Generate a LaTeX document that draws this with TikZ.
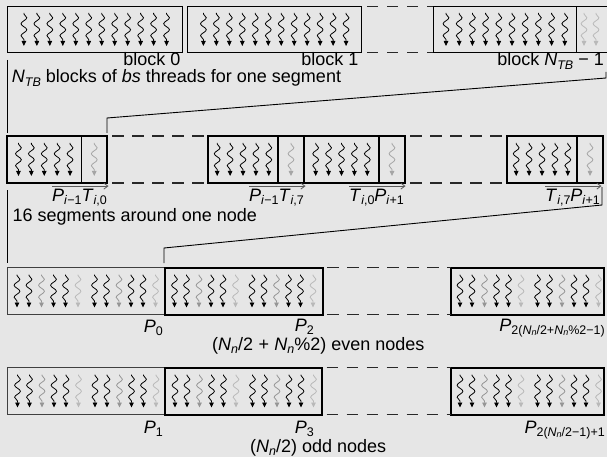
\documentclass[tikz,border=0pt]{standalone}
\usepackage{fontspec}
\setmainfont{Liberation Sans}
\usetikzlibrary{decorations.pathmorphing,arrows.meta,calc}
\definecolor{bg}{RGB}{230,230,230}
\definecolor{gA}{RGB}{150,150,150}
\definecolor{gB}{RGB}{185,185,185}
\definecolor{gM}{RGB}{165,165,165}
\definecolor{dk}{RGB}{40,40,40}
\newcommand\iv[1]{\textit{#1}}
\newcommand\sbs[1]{\raisebox{-0.17em}{\fontsize{12.5}{12.5}\selectfont #1}}
\newcommand\ssbs[1]{\raisebox{-0.1em}{\fontsize{9}{9}\selectfont #1}}
\newcommand\thr[3]{\draw[thread,#3] (#1,#2-16.5) -- (#1,#2+16.5);}
\begin{document}
\begin{tikzpicture}[x=1pt,y=-1pt,
 box/.style={draw=black,line width=1.3pt,inner sep=0pt,outer sep=0pt,anchor=north west},
 tbox/.style={draw=black,line width=2pt,inner sep=0pt,outer sep=0pt,anchor=north west},
 lbox/.style={draw=black!75,line width=1pt,inner sep=0pt,outer sep=0pt,anchor=north west},
 dfill/.style={fill=dk},
 dln/.style={draw=dk,line width=1.5pt,dash pattern=on 11.7pt off 8.3pt,dash phase=15.5pt},
 thread/.style={line width=0.8pt, decorate, decoration={snake,segment length=12pt,amplitude=2.9pt,pre length=1pt,post length=5pt}, -{Triangle[length=5pt,width=4.5pt]}},
 lab/.style={inner sep=0pt, font=\fontsize{18}{20}\selectfont},
 zl/.style={draw=black,line width=0.9pt},
 ovar/.style={draw=black!65,line width=0.8pt,-{Straight Barb[length=4pt,width=6pt]}}
]
\fill[bg] (0,0) rectangle (607,457);
\useasboundingbox (0,0) rectangle (607,457);

% ---------- top row: blocks ----------
\node[box,minimum width=175pt,minimum height=46pt] (b0) at (7.7,6.5) {};
\node[box,minimum width=174pt,minimum height=46pt] (b1) at (187.7,6.5) {};
\node[box,minimum width=143.4pt,minimum height=46pt] (bLb) at (433.3,6.5) {};
\node[box,minimum width=31pt,minimum height=46pt] (bLg) at (576.7,6.5) {};
\foreach \k in {0,...,11}{\thr{23.9+12.97*\k}{29.5}{black}}
\foreach \k in {0,...,11}{\thr{203.4+12.97*\k}{29.5}{black}}
\foreach \k in {0,...,9}{\thr{446+13.2*\k}{29.5}{black}}
\thr{584}{29.5}{gB}
\thr{596}{29.5}{gB}
\node[lab,anchor=base east] (lb0) at (180.5,66) {block 0};
\node[lab,anchor=base east] (lb1) at (358.5,66) {block 1};
\node[lab,anchor=base east] (lbL) at (604,66) {block \iv{N}\sbs{\iv{TB}} − 1};
\node[lab,anchor=base west] (ltop) at (11.7,83) {\iv{N}\sbs{\iv{TB}} blocks of \iv{bs} threads for one segment};

% ---------- middle row: segments ----------
\node[box,minimum width=74.5pt,minimum height=47pt] (s1b) at (7,136) {};
\node[box,minimum width=25.5pt,minimum height=47pt] (s1g) at (81.5,136) {};
\node[box,minimum width=70pt,minimum height=47pt] (s2b) at (208,136) {};
\node[box,minimum width=26pt,minimum height=47pt] (s2g) at (278,136) {};
\node[box,minimum width=75pt,minimum height=47pt] (s3b) at (304,136) {};
\node[box,minimum width=26pt,minimum height=47pt] (s3g) at (379,136) {};
\node[box,minimum width=70pt,minimum height=47pt] (s4b) at (507,136) {};
\node[box,minimum width=26pt,minimum height=47pt] (s4g) at (577,136) {};
\foreach \x in {18.45,217.2,315.7,516.2}{\foreach \k in {0,...,4}{\thr{\x+12.9*\k}{159.5}{black}}}
\foreach \x in {94.25,291,392,590}{\thr{\x}{159.5}{gM}}
\node[lab,anchor=base east] (m1) at (107,201.7) {\iv{P}\sbs{\iv{i}−1}\iv{T}\sbs{\iv{i},0}};
\node[lab,anchor=base east] (m2) at (304,201.7) {\iv{P}\sbs{\iv{i}−1}\iv{T}\sbs{\iv{i},7}};
\node[lab,anchor=base east] (m3) at (404,201.7) {\iv{T}\sbs{\iv{i},0}\iv{P}\sbs{\iv{i}+1}};
\node[lab,anchor=base east] (m4) at (600,201.7) {\iv{T}\sbs{\iv{i},7}\iv{P}\sbs{\iv{i}+1}};
\foreach \m in {m1,m2,m3,m4}{\draw[ovar] ($(\m.north west)+(0,-3)$) -- ($(\m.north east)+(1.5,-3)$);}
\node[lab,anchor=base west] (lmid) at (12.5,221.7) {16 segments around one node};

% ---------- zoom lines ----------
\coordinate (za1) at (7,60);
\coordinate (za2) at (7,133);
\coordinate (zb1) at (107,133);
\coordinate (zb2) at (107,118);
\coordinate (zb3) at (606,78);
\coordinate (zb4) at (606,72);
\draw[zl] (za1) -- (za2);
\draw[zl] (zb1) -- (zb2) -- (zb3) -- (zb4);
\coordinate (zc1) at (7,190);
\coordinate (zc2) at (7,263);
\coordinate (zd1) at (164,263);
\coordinate (zd2) at (164,248);
\coordinate (zd3) at (602,205);
\coordinate (zd4) at (602,187);
\draw[zl] (zc1) -- (zc2);
\draw[zl] (zd1) -- (zd2) -- (zd3) -- (zd4);

% ---------- even nodes row ----------
\node[lbox,minimum width=157pt,minimum height=47pt] (nP0) at (7,267.5) {};
\node[tbox,minimum width=158pt,minimum height=47pt] (nP2) at (164.5,267.5) {};
\node[tbox,minimum width=153pt,minimum height=47pt] (nPE) at (451,267.5) {};
\draw[dln] (nP2.north east) -- (nPE.north west);
\draw[dln] (nP2.south east) -- (nPE.south west);
% ---------- odd nodes row ----------
\node[lbox,minimum width=157pt,minimum height=47pt] (nP1) at (7.5,367.5) {};
\node[tbox,minimum width=157pt,minimum height=47pt] (nP3) at (165,367.5) {};
\node[tbox,minimum width=153pt,minimum height=47pt] (nPO) at (451,367.5) {};
\draw[dln] (nP3.north east) -- (nPO.north west);
\draw[dln] (nP3.south east) -- (nPO.south west);
\foreach \L/\Y in {7/291,164.5/291,450/291,7.5/391,165/391,450/391}{
  \foreach \o/\c in {10/black,22/black,34.5/gA,46.5/black,58.5/black,71/gB,87.5/black,99.5/black,112/gA,124/black,136/black,148.5/gB}{
    \thr{\L+\o}{\Y}{\c}}}
\node[lab,anchor=base east] (l0) at (163,332) {\iv{P}\sbs{0}};
\node[lab,anchor=base east] (l2) at (314,331) {\iv{P}\sbs{2}};
\node[lab,anchor=base east] (le) at (605,331) {\iv{P}\sbs{2(\iv{N}\ssbs{\iv{n}}/2+\iv{N}\ssbs{\iv{n}}\%2−1)}};
\node[lab,anchor=base west] (leven) at (212,350) {(\iv{N}\sbs{\iv{n}}/2\hspace{0.3em}+\hspace{0.3em}\iv{N}\sbs{\iv{n}}\%2) even nodes};
\node[lab,anchor=base east] (l1) at (163,433) {\iv{P}\sbs{1}};
\node[lab,anchor=base east] (l3) at (314,433) {\iv{P}\sbs{3}};
\node[lab,anchor=base east] (lo) at (605,433) {\iv{P}\sbs{2(\iv{N}\ssbs{\iv{n}}/2−1)+1}};
\node[lab,anchor=base west] (lodd) at (250,452) {(\iv{N}\sbs{\iv{n}}/2) odd nodes};

% ---------- dashed gaps (each dash a small filled bar from the box edge) ----------
\foreach \a in {north east,south east}{
  \foreach \i in {0,1,2}{\fill[dfill] ($(b1.\a)+(5+20*\i,-0.75)$) rectangle ++(11.7,1.5);}
  \fill[dfill] ($(b1.\a)+(65,-0.75)$) rectangle ++(6.6,1.5);
  \foreach \i in {0,...,4}{\fill[dfill] ($(s1g.\a)+(5+20*\i,-0.75)$) rectangle ++(11.7,1.5);}
  \foreach \i in {0,...,4}{\fill[dfill] ($(s3g.\a)+(5+20*\i,-0.75)$) rectangle ++(11.7,1.5);}
}
\end{tikzpicture}
\end{document}
